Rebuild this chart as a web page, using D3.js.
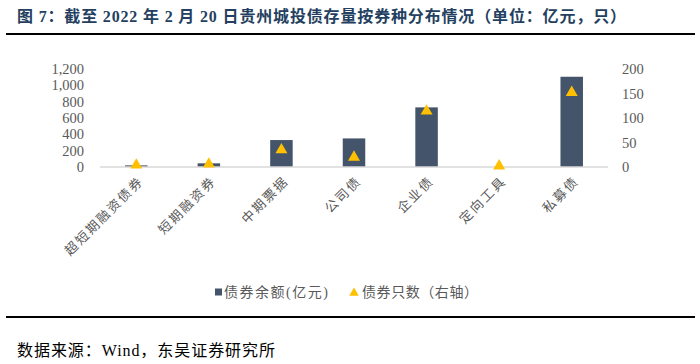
<!DOCTYPE html>
<html>
  <head>
    <meta charset="utf-8">
    <title>贵州城投债存量按券种分布</title>
    <script src="https://cdn.jsdelivr.net/npm/d3@7"></script>
    <style>
      body { margin: 0; background: #fff; }
      svg { display: block; }
      .tick text { font-family: "Liberation Serif", "Noto Sans CJK SC", serif; font-size: 14.5px; fill: #595959; }
      .cat { font-family: "Noto Sans CJK SC", sans-serif; font-size: 13px; letter-spacing: 2px; fill: #595959; }
      .legend { font-family: "Liberation Serif", "Noto Sans CJK SC", serif; font-size: 14px; fill: #595959; }
    </style>
  </head>
  <body>
    <svg id="chart" width="700" height="364"></svg>
    <script>
      // data
      categories = ["超短期融资债券", "短期融资券", "中期票据", "公司债", "企业债", "定向工具", "私募债"];
      balance = [20, 45, 330, 350, 730, 0, 1105];   // 亿元, left axis
      counts = [4, 6, 35, 20, 114, 2, 152];         // 只, right axis
      leftTicks = [0, 200, 400, 600, 800, 1000, 1200];
      rightTicks = [0, 50, 100, 150, 200];

      chart = d3.select("#chart");
      margin = { left: 100, right: 608, top: 69, bottom: 167 };

      // title and rules
      chart.append("text")
        .attr("x", 17)
        .attr("y", 22)
        .attr("textLength", 609)
        .style("font-family", "'Liberation Serif', 'Noto Sans CJK SC', serif")
        .style("font-size", "16px")
        .style("font-weight", "bold")
        .style("fill", "#243f60")
        .text("图 7：截至 2022 年 2 月 20 日贵州城投债存量按券种分布情况（单位：亿元，只）");
      chart.append("line")
        .attr("x1", 6).attr("x2", 695)
        .attr("y1", 34).attr("y2", 34)
        .style("stroke", "#000").style("stroke-width", 2);
      chart.append("line")
        .attr("x1", 6).attr("x2", 695)
        .attr("y1", 317).attr("y2", 317)
        .style("stroke", "#000").style("stroke-width", 2);
      chart.append("text")
        .attr("x", 17)
        .attr("y", 356)
        .attr("textLength", 258)
        .style("font-family", "'Liberation Serif', 'Noto Sans CJK SC', serif")
        .style("font-size", "16px")
        .style("fill", "#000")
        .text("数据来源：Wind，东吴证券研究所");

      // scales
      x = d3.scaleBand()
        .domain(categories)
        .range([margin.left, margin.right])
        .paddingInner(0.69)
        .paddingOuter(0.345);
      yLeft = d3.scaleLinear().domain([0, 1200]).range([margin.bottom, margin.top]);
      yRight = d3.scaleLinear().domain([0, 200]).range([margin.bottom, margin.top]);

      // axes
      chart.append("g")
        .attr("transform", "translate(84, 0)")
        .call(d3.axisLeft(yLeft).tickValues(leftTicks).tickFormat(d3.format(",")).tickSize(0).tickPadding(0))
        .call(function(g) { g.select(".domain").remove(); });
      chart.append("g")
        .attr("transform", "translate(622, 0)")
        .call(d3.axisRight(yRight).tickValues(rightTicks).tickSize(0).tickPadding(0))
        .call(function(g) { g.select(".domain").remove(); });

      // bars
      chart.append("g")
        .selectAll("rect")
        .data(balance)
        .join("rect")
          .attr("x", function(d, i) { return x(categories[i]); })
          .attr("width", x.bandwidth())
          .attr("y", function(d) { return yLeft(d); })
          .attr("height", function(d) { return yLeft(0) - yLeft(d); })
          .style("fill", "#44546a");

      // baseline
      chart.append("line")
        .attr("x1", margin.left).attr("x2", margin.right)
        .attr("y1", margin.bottom).attr("y2", margin.bottom)
        .style("stroke", "#d9d9d9").style("stroke-width", 1.5);

      // triangles
      triangle = d3.symbol().type(d3.symbolTriangle).size(62);
      chart.append("g")
        .selectAll("path")
        .data(counts)
        .join("path")
          .attr("d", triangle)
          .attr("transform", function(d, i) {
            return "translate(" + (x(categories[i]) + x.bandwidth() / 2) + "," + yRight(d) + ")";
          })
          .style("fill", "#ffc000");

      // category labels
      chart.append("g")
        .selectAll("text")
        .data(categories)
        .join("text")
          .attr("class", "cat")
          .attr("text-anchor", "end")
          .attr("transform", function(d) {
            return "translate(" + (x(d) + x.bandwidth() / 2 + 8) + ",182) rotate(-45)";
          })
          .text(function(d) { return d; });

      // legend
      legend = chart.append("g").attr("transform", "translate(0, 292)");
      legend.append("rect")
        .attr("x", 215).attr("y", -3.5)
        .attr("width", 7).attr("height", 7)
        .style("fill", "#44546a");
      legend.append("text")
        .attr("class", "legend")
        .attr("x", 224).attr("y", 5)
        .attr("textLength", 104)
        .text("债券余额(亿元)");
      legend.append("path")
        .attr("d", d3.symbol().type(d3.symbolTriangle).size(40))
        .attr("transform", "translate(354, 1)")
        .style("fill", "#ffc000");
      legend.append("text")
        .attr("class", "legend")
        .attr("x", 362).attr("y", 5)
        .attr("textLength", 116)
        .text("债券只数（右轴）");
    </script>
  </body>
</html>
